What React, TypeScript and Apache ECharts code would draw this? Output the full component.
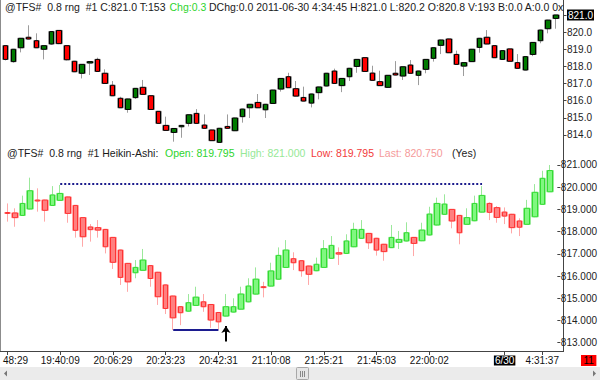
import React, { useEffect, useRef } from "react";
import * as echarts from "echarts";

// ---- Top pane: 0.8 range bars (open, close, low, high) ----
const topOpen = [
  819.21, 818.28, 819.09, 819.7, 819.5, 819.0, 819.31, 820.1, 819.21, 818.3,
  817.6, 818.2, 818.41, 817.6, 816.9, 816.14, 815.49, 816.18, 816.78, 816.29,
  815.38, 814.56, 814.15, 814.48, 814.68, 815.26, 814.58, 814.29, 813.57, 814.5,
  814.25, 815.07, 815.59, 815.9, 815.47, 815.84, 816.68, 817.4, 816.7, 816.19,
  815.86, 816.47, 816.86, 817.73, 816.88, 817.4, 818.0, 818.51, 817.61, 817.11,
  816.78, 817.6, 817.44, 818.08, 817.48, 817.83, 818.47, 819.23, 819.6, 818.7,
  818.02, 818.28, 819.11, 819.7, 819.21, 818.41, 819.02, 818.22, 817.79, 818.7,
  819.5, 820.2, 820.8,
];
const topClose = [
  818.41, 819.0, 819.64, 819.6, 819.09, 819.21, 820.03, 819.33, 818.39, 817.69,
  818.12, 818.28, 817.71, 817.01, 816.29, 815.59, 816.1, 816.72, 816.37, 815.49,
  814.68, 814.27, 814.38, 814.56, 815.18, 814.68, 814.39, 813.67, 814.39, 814.39,
  814.99, 815.51, 815.79, 815.59, 815.79, 816.62, 817.3, 816.76, 816.27, 815.98,
  816.39, 816.8, 817.6, 817.01, 817.3, 817.89, 818.41, 817.71, 817.19, 816.88,
  817.48, 817.5, 817.98, 817.6, 817.73, 818.41, 819.09, 819.54, 818.8, 818.12,
  818.22, 819.0, 819.64, 819.31, 818.51, 818.92, 818.3, 817.89, 818.57, 819.4,
  820.12, 820.7, 821.0,
];
const topLow = [
  818.35, 818.22, 818.82, 819.58, 819.07, 818.41, 819.25, 819.3, 818.35, 817.67,
  817.3, 817.5, 817.69, 816.99, 816.27, 815.57, 815.3, 816.1, 816.35, 815.47,
  814.66, 814.25, 813.61, 813.84, 814.5, 814.66, 814.35, 813.65, 813.55, 814.37,
  814.23, 814.72, 814.99, 815.57, 814.99, 815.82, 816.53, 816.74, 816.25, 815.96,
  815.61, 816.08, 816.84, 816.99, 816.5, 817.15, 817.63, 817.69, 817.17, 816.86,
  816.76, 817.48, 817.21, 817.58, 816.91, 817.6, 818.28, 818.72, 818.78, 818.1,
  817.44, 818.26, 818.8, 819.29, 818.49, 818.39, 818.28, 817.87, 817.77, 818.6,
  819.35, 819.93, 820.2,
];
const topHigh = [
  819.25, 819.02, 819.66, 820.4, 819.93, 819.23, 820.05, 820.12, 819.23, 818.32,
  818.14, 818.3, 818.51, 817.83, 817.15, 816.23, 816.12, 816.74, 817.21, 816.31,
  815.4, 815.07, 814.4, 814.58, 815.2, 815.51, 815.2, 814.31, 814.41, 815.2,
  815.01, 815.53, 815.81, 816.39, 815.81, 816.64, 817.32, 817.63, 817.15, 816.82,
  816.41, 816.82, 817.62, 817.87, 817.32, 817.91, 818.43, 818.53, 818.04, 817.75,
  817.5, 818.31, 818.0, 818.37, 817.75, 818.43, 819.11, 819.56, 819.62, 818.92,
  818.24, 819.02, 819.66, 820.12, 819.23, 818.94, 819.04, 818.72, 818.59, 819.42,
  820.14, 820.72, 821.0,
];

// ---- Bottom pane: Heikin-Ashi bars ----
const haOpen = [
  818.86, 818.84, 818.73, 819.02, 819.42, 819.42, 819.18, 819.41, 819.56, 819.18,
  818.63, 818.21, 818.18, 818.1, 817.74, 817.17, 816.57, 816.15, 816.26, 816.47,
  816.17, 815.6, 815.1, 814.62, 814.42, 814.68, 814.84, 814.72, 814.36, 814.2,
  814.38, 814.51, 814.84, 815.19, 815.52, 815.55, 815.86, 816.39, 816.78, 816.69,
  816.45, 816.24, 816.39, 816.8, 817.05, 817.02, 817.32, 817.7, 817.92, 817.7,
  817.43, 817.28, 817.52, 817.58, 817.74, 817.59, 817.85, 818.3, 818.78, 819.0,
  818.73, 818.33, 818.49, 818.88, 819.27, 819.08, 818.88, 818.78, 818.48, 818.33,
  818.67, 819.23, 819.795,
];
const haClose = [
  818.82, 818.63, 819.27, 819.84, 819.38, 818.96, 819.65, 819.72, 818.82, 818.06,
  817.77, 818.09, 818.07, 817.32, 816.62, 815.94, 815.74, 816.39, 816.72, 815.89,
  815.07, 814.54, 814.12, 814.35, 814.8, 815.05, 814.62, 814.02, 813.94, 814.62,
  814.62, 815.19, 815.55, 815.86, 815.48, 816.23, 816.93, 817.17, 816.6, 816.24,
  816.08, 816.53, 817.23, 817.38, 816.99, 817.58, 818.1, 818.1, 817.5, 817.17,
  817.1, 817.74, 817.65, 817.95, 817.47, 818.07, 818.79, 819.27, 819.24, 818.48,
  817.95, 818.63, 819.27, 819.63, 818.87, 818.64, 818.7, 818.18, 818.2, 819.05,
  819.77, 820.4, 820.75,
];
const haLow = [
  818.45, 818.22, 818.71, 819.0, 818.9, 818.45, 819.16, 819.39, 818.4, 817.73,
  817.32, 817.55, 817.73, 817.02, 816.32, 815.6, 815.29, 815.9, 816.24, 815.52,
  814.7, 814.29, 813.57, 813.79, 814.4, 814.66, 814.39, 813.67, 813.6, 814.18,
  814.36, 814.49, 814.82, 815.17, 815.04, 815.53, 815.84, 816.37, 816.27, 815.97,
  815.6, 816.22, 816.37, 816.78, 816.5, 817.0, 817.3, 817.68, 817.22, 816.92,
  816.69, 817.26, 817.22, 817.56, 816.9, 817.57, 817.83, 818.28, 818.76, 818.15,
  817.43, 818.31, 818.47, 818.86, 818.52, 818.4, 818.34, 817.92, 817.8, 818.31,
  818.65, 819.21, 819.795,
];
const haHigh = [
  819.27, 819.05, 819.62, 820.43, 819.95, 819.44, 820.05, 820.1, 819.58, 819.2,
  818.65, 818.34, 818.52, 818.12, 817.76, 817.19, 816.59, 816.72, 817.22, 816.49,
  816.19, 815.62, 815.12, 814.64, 815.19, 815.52, 815.19, 814.74, 814.38, 815.19,
  815.0, 815.52, 815.9, 816.39, 815.74, 816.6, 817.29, 817.62, 817.07, 816.71,
  816.47, 816.83, 817.62, 817.8, 817.29, 817.88, 818.4, 818.52, 817.94, 817.72,
  817.45, 818.3, 818.03, 818.42, 817.76, 818.4, 819.12, 819.53, 819.68, 819.02,
  818.75, 819.05, 819.62, 820.05, 819.32, 819.15, 819.09, 818.8, 818.6, 819.43,
  820.14, 820.74, 821.0,
];

// ---- Axis labels ----
const timeTickIndex = [0, 7, 14, 21, 28, 35, 42, 49, 56, 66, 71];
const timeTickText = [
  "48:29", "19:40:09", "20:06:29", "20:23:23", "20:42:31", "21:10:08",
  "21:25:21", "21:45:03", "22:00:02", "6/30", "4:31:37",
];
const dateTickText = "6/30";
const topPriceTicks = [814, 815, 816, 817, 818, 819, 820, 821];
const haPriceTicks = [813, 814, 815, 816, 817, 818, 819, 820, 821];
const lastPrice = 821;

// ---- Drawing annotations (bar index, price) ----
const resistanceLine = { from: 7, to: 63, price: 820.14 };
const supportLine = { from: 22, to: 28, price: 813.57 };
const arrowMark = { bar: 29, fromPrice: 813.05, toPrice: 813.75 };

const FONT = 'Arial, "Liberation Sans", sans-serif';

export default function App() {
  const ref = useRef<HTMLDivElement>(null);

  useEffect(() => {
    if (!ref.current) return;
    const chart = echarts.init(ref.current, null, { renderer: "svg" });
    const n = topOpen.length;
    const cats = Array.from({ length: n + 1 }, (_, i) => String(i));
    const tickSet = new Set(timeTickIndex);

    const topFull = topOpen.map((o, i) => [o, topClose[i], topLow[i], topHigh[i]]);
    const topBody = topOpen.map((o, i) => [o, topClose[i], Math.min(o, topClose[i]), Math.max(o, topClose[i])]);
    const haFull = haOpen.map((o, i) => [o, haClose[i], haLow[i], haHigh[i]]);
    const haBody = haOpen.map((o, i) => [o, haClose[i], Math.min(o, haClose[i]), Math.max(o, haClose[i])]);

    const txt = (x: number, y: number, text: string, fill: string, size = 10.5) => ({
      type: "text",
      x,
      y,
      silent: true,
      style: { text, fill, fontSize: size, fontFamily: FONT, verticalAlign: "middle", align: "left" },
    });

    const option: any = {
      animation: false,
      backgroundColor: "#ffffff",
      grid: [
        { left: 5.7, right: 36.5, top: 8, height: 135 },
        { left: 5.7, right: 36.5, top: 160, height: 192 },
      ],
      xAxis: [
        { gridIndex: 0, type: "category", data: cats, boundaryGap: false, show: false },
        {
          gridIndex: 1,
          type: "category",
          data: cats,
          boundaryGap: false,
          axisLine: { show: false },
          axisTick: {
            show: true,
            length: 3,
            interval: (i: number) => tickSet.has(i),
            lineStyle: { color: "#444" },
          },
          axisLabel: {
            interval: (i: number) => tickSet.has(i),
            margin: 3,
            fontSize: 10,
            fontFamily: FONT,
            color: "#111",
            formatter: (v: string, i: number) => {
              const k = timeTickIndex.indexOf(i);
              if (k < 0) return "";
              const t = timeTickText[k];
              if (k === 0) return "{first|" + t + "}";
              if (t === dateTickText) return "{date|" + t + "}";
              return t;
            },
            rich: {
              first: { padding: [0, 0, 0, 16], fontSize: 10, fontFamily: FONT, color: "#111" },
              date: { backgroundColor: "#000", color: "#fff", padding: [0, 1, 0, 1], fontSize: 10, fontFamily: FONT, lineHeight: 11 },
            },
          },
          splitLine: { show: false },
        },
      ],
      yAxis: [
        {
          gridIndex: 0,
          type: "value",
          position: "right",
          min: 813.533,
          max: 821.408,
          axisLine: { show: false },
          splitLine: { show: false },
          axisTick: { show: true, length: 3, customValues: topPriceTicks, lineStyle: { color: "#444" } },
          axisLabel: {
            customValues: topPriceTicks,
            margin: 3.5,
            fontSize: 10,
            fontFamily: FONT,
            color: "#222",
            formatter: (v: number) => (v === lastPrice ? "{hl|" + v.toFixed(1) + "}" : v.toFixed(1)),
            rich: {
              hl: { backgroundColor: "#000", color: "#fff", padding: [1, 1, 0, 1], fontSize: 10, fontFamily: FONT },
            },
          },
        },
        {
          gridIndex: 1,
          type: "value",
          position: "right",
          min: 812.581,
          max: 821.225,
          axisLine: { show: false },
          splitLine: { show: false },
          axisTick: { show: true, length: 3, customValues: haPriceTicks, lineStyle: { color: "#444" } },
          axisLabel: {
            customValues: haPriceTicks,
            margin: 3.5,
            fontSize: 10,
            fontFamily: FONT,
            color: "#222",
            formatter: (v: number) => v.toFixed(3),
          },
        },
      ],
      series: [
        {
          type: "candlestick",
          xAxisIndex: 0,
          yAxisIndex: 0,
          data: topFull,
          barWidth: 7,
          clip: false,
          silent: true,
          itemStyle: { color: "#d6d6d6", color0: "#d6d6d6", borderColor: "#9c9c9c", borderColor0: "#9c9c9c", borderWidth: 1 },
        },
        {
          type: "candlestick",
          xAxisIndex: 0,
          yAxisIndex: 0,
          data: topBody,
          barWidth: 5,
          clip: false,
          silent: true,
          itemStyle: { color: "#007a00", color0: "#ff0000", borderColor: "#000", borderColor0: "#000", borderWidth: 1 },
        },
        {
          type: "candlestick",
          xAxisIndex: 1,
          yAxisIndex: 1,
          data: haFull,
          barWidth: 7,
          clip: false,
          silent: true,
          itemStyle: { color: "#c8f8c8", color0: "#ffd2d2", borderColor: "#9be89b", borderColor0: "#ffa8a8", borderWidth: 1 },
        },
        {
          type: "candlestick",
          xAxisIndex: 1,
          yAxisIndex: 1,
          data: haBody,
          barWidth: 5,
          clip: false,
          silent: true,
          itemStyle: { color: "#80f880", color0: "#ff8080", borderColor: "#33dd33", borderColor0: "#ff3333", borderWidth: 1 },
          markLine: {
            silent: true,
            symbol: ["none", "none"],
            label: { show: false },
            emphasis: { disabled: true },
            data: [
              [
                { coord: [resistanceLine.from, resistanceLine.price], lineStyle: { type: [2, 2], color: "#1a1a8c", width: 2 } },
                { coord: [resistanceLine.to, resistanceLine.price] },
              ],
              [
                { coord: [supportLine.from, supportLine.price], lineStyle: { type: "solid", color: "#1c1c90", width: 2 } },
                { coord: [supportLine.to, supportLine.price] },
              ],
              [
                { coord: [arrowMark.bar, arrowMark.fromPrice], symbol: "none", lineStyle: { type: "solid", color: "#000", width: 2 } },
                { coord: [arrowMark.bar, arrowMark.toPrice], symbol: "arrow", symbolSize: [7, 7] },
              ],
            ],
          },
        },
      ],
      graphic: [
        { type: "line", silent: true, shape: { x1: 0.5, y1: 0, x2: 0.5, y2: 352 }, style: { stroke: "#8c8c8c", lineWidth: 1 } },
        { type: "line", silent: true, shape: { x1: 563.5, y1: 0, x2: 563.5, y2: 352 }, style: { stroke: "#444", lineWidth: 1 } },
        { type: "line", silent: true, shape: { x1: 0, y1: 351.5, x2: 563.5, y2: 351.5 }, style: { stroke: "#444", lineWidth: 1 } },
        txt(5, 6.5, "@TFS#\u00a0\u00a00.8 rng\u00a0\u00a0#1 C:821.0 T:153", "#1a1a1a"),
        txt(169.5, 6.5, "Chg:0.3", "#2ed42e"),
        txt(209, 6.5, "DChg:0.0 2011-06-30 4:34:45 H:821.0 L:820.2 O:820.8 V:193 B:0.0 A:0.0 0x", "#1a1a1a"),
        txt(7, 152.5, "@TFS#\u00a0\u00a00.8 rng\u00a0\u00a0#1 Heikin-Ashi:", "#1a1a1a"),
        txt(165, 152.5, "Open: 819.795", "#2ed42e"),
        txt(240, 152.5, "High: 821.000", "#96e896"),
        txt(311, 152.5, "Low: 819.795", "#f23a3a"),
        txt(379, 152.5, "Last: 820.750", "#f59a9a"),
        txt(452, 152.5, "(Yes)", "#222"),
        {
          type: "text",
          x: 581,
          y: 355,
          silent: true,
          style: { text: "11", fill: "#000", backgroundColor: "#ff0000", padding: [0, 2.5, 0, 2.5], fontSize: 10, fontFamily: FONT, lineHeight: 11, verticalAlign: "top", align: "left" },
        },
        { type: "rect", silent: true, shape: { x: 0, y: 367, width: 600, height: 13 }, style: { fill: "#ebebeb" } },
        { type: "polygon", silent: true, shape: { points: [[4, 373.5], [7, 370.5], [7, 376.5]] }, style: { fill: "#777" } },
        { type: "polygon", silent: true, shape: { points: [[596, 373.5], [593, 370.5], [593, 376.5]] }, style: { fill: "#777" } },
        { type: "rect", silent: true, shape: { x: 296.5, y: 367.5, width: 12, height: 12, r: 1 }, style: { fill: "#e6e6e6", stroke: "#a8a8a8", lineWidth: 1 } },
        { type: "line", silent: true, shape: { x1: 300.5, y1: 371, x2: 300.5, y2: 377 }, style: { stroke: "#888", lineWidth: 1 } },
        { type: "line", silent: true, shape: { x1: 302.5, y1: 371, x2: 302.5, y2: 377 }, style: { stroke: "#888", lineWidth: 1 } },
        { type: "line", silent: true, shape: { x1: 304.5, y1: 371, x2: 304.5, y2: 377 }, style: { stroke: "#888", lineWidth: 1 } },
      ],
    };

    chart.setOption(option);
    return () => chart.dispose();
  }, []);

  return (
    <div
      ref={ref}
      style={{ position: "absolute", left: 0, top: 0, width: 600, height: 380, background: "#fff" }}
    />
  );
}
